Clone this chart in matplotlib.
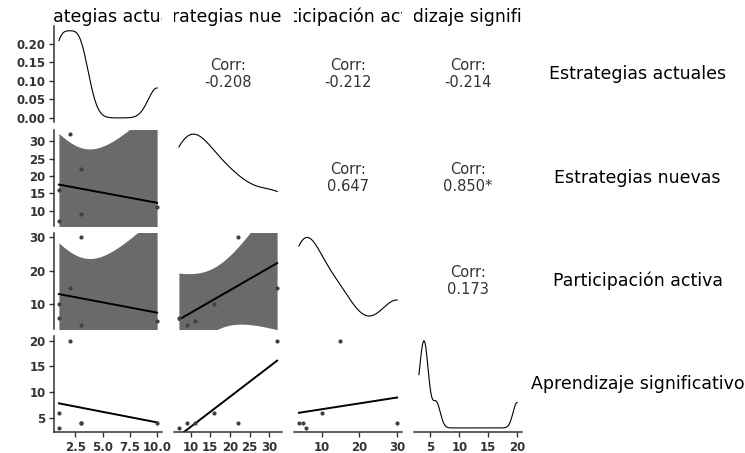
import numpy as np
import matplotlib
matplotlib.use("Agg")
import matplotlib.pyplot as plt
from matplotlib.ticker import FormatStrFormatter

# data (6 respondents)
estrategias_actuales = [1, 1, 2, 3, 3, 10]
estrategias_nuevas = [16, 7, 32, 22, 9, 11]
participacion_activa = [10, 6, 15, 30, 4, 5]
aprendizaje_significativo = [6, 3, 20, 4, 4, 4]

var_names = ["Estrategias actuales", "Estrategias nuevas",
             "Participación activa", "Aprendizaje significativo"]

# upper triangle, pairs (0,1) (0,2) (0,3) (1,2) (1,3) (2,3)
corr_labels = ["-0.208", "-0.212", "-0.214", "0.647", "0.850*", "0.173"]

col_ticks = [[2.5, 5.0, 7.5, 10.0], [10, 15, 20, 25, 30], [10, 20, 30], [5, 10, 15, 20]]
col_fmt = ["%.1f", "%d", "%d", "%d"]
density_ticks = [0.00, 0.05, 0.10, 0.15, 0.20]

T_CRIT = 2.776  # t(0.975, df=4)
BAND = "#6a6a6a"
INK = "#333333"

plt.rcParams["font.family"] = ["DejaVu Sans"]

data = [np.array(v, float) for v in (estrategias_actuales, estrategias_nuevas,
                                     participacion_activa, aprendizaje_significativo)]


def kde_curve(v, n=512):
    sd = v.std(ddof=1)
    q75, q25 = np.percentile(v, [75, 25])
    bw = 0.9 * min(sd, (q75 - q25) / 1.34) * len(v) ** -0.2
    xs = np.linspace(v.min(), v.max(), n)
    z = (xs[:, None] - v[None, :]) / bw
    ys = np.exp(-0.5 * z ** 2).sum(axis=1) / (len(v) * bw * np.sqrt(2 * np.pi))
    return xs, ys


def lm_fit(x, y, n=100):
    slope, intercept = np.polyfit(x, y, 1)
    xs = np.linspace(x.min(), x.max(), n)
    fit = intercept + slope * xs
    resid = y - (intercept + slope * x)
    s = np.sqrt((resid ** 2).sum() / (len(x) - 2))
    sxx = ((x - x.mean()) ** 2).sum()
    se = s * np.sqrt(1 / len(x) + (xs - x.mean()) ** 2 / sxx)
    return xs, fit, fit - T_CRIT * se, fit + T_CRIT * se


def padded(v):
    span = v.max() - v.min()
    return v.min() - 0.05 * span, v.max() + 0.05 * span


fig = plt.figure(figsize=(7.45, 4.53), dpi=100)
gs = fig.add_gridspec(4, 4, left=0.0725, right=0.7007, top=0.9417, bottom=0.0457,
                      wspace=0.111, hspace=0.078)

k = 0
for i in range(4):
    for j in range(4):
        ax = fig.add_subplot(gs[i, j])
        for side in ax.spines.values():
            side.set_visible(False)
        ax.set_xlim(*padded(data[j]))

        if i == j:
            xs, ys = kde_curve(data[j])
            ax.plot(xs, ys, color="black", lw=0.8)
            ax.set_ylim(-0.05 * ys.max(), 1.05 * ys.max())
        elif i > j:
            x, y = data[j], data[i]
            xs, fit, lo, hi = lm_fit(x, y)
            if i < 3:
                ax.fill_between(xs, lo, hi, color=BAND, lw=0)
            ax.plot(xs, fit, color="black", lw=1.4)
            ax.scatter(x, y, s=9, color="#404040", zorder=3, lw=0)
            ax.set_ylim(*padded(y))
        else:
            ax.text(0.5, 0.5, "Corr:\n" + corr_labels[k], transform=ax.transAxes,
                    ha="center", va="center", fontsize=10.5, color=INK, linespacing=1.15)
            k += 1

        ax.tick_params(colors=INK, length=3.5, width=1.0, pad=2.5,
                       labelsize=8.5)
        if j == 0:
            ax.spines["left"].set_visible(True)
            ax.spines["left"].set_color(INK)
            ax.spines["left"].set_linewidth(1.1)
            if i == 0:
                ax.set_yticks(density_ticks)
                ax.yaxis.set_major_formatter(FormatStrFormatter("%.2f"))
            else:
                ax.set_yticks(col_ticks[i])
                ax.yaxis.set_major_formatter(FormatStrFormatter(col_fmt[i]))
            for t in ax.get_yticklabels():
                t.set_fontweight("bold")
        else:
            ax.set_yticks([])
        if i == 3:
            ax.spines["bottom"].set_visible(True)
            ax.spines["bottom"].set_color(INK)
            ax.spines["bottom"].set_linewidth(1.1)
            ax.set_xticks(col_ticks[j])
            ax.xaxis.set_major_formatter(FormatStrFormatter(col_fmt[j]))
            for t in ax.get_xticklabels():
                t.set_fontweight("bold")
        else:
            ax.set_xticks([])

        # column strip on top, clipped to panel width
        if i == 0:
            pos = ax.get_position()
            strip = fig.add_axes([pos.x0, pos.y1, pos.width, 1 - pos.y1])
            strip.axis("off")
            strip.text(0.5, 0.36, var_names[j], ha="center", va="center",
                       fontsize=12.5, color="black", clip_on=True)

        # row strip on the right
        if j == 3:
            pos = ax.get_position()
            fig.text(0.856, (pos.y0 + pos.y1) / 2, var_names[i], ha="center",
                     va="center", fontsize=12.5, color="black")

fig.savefig("out.png", dpi=100, facecolor="white")
